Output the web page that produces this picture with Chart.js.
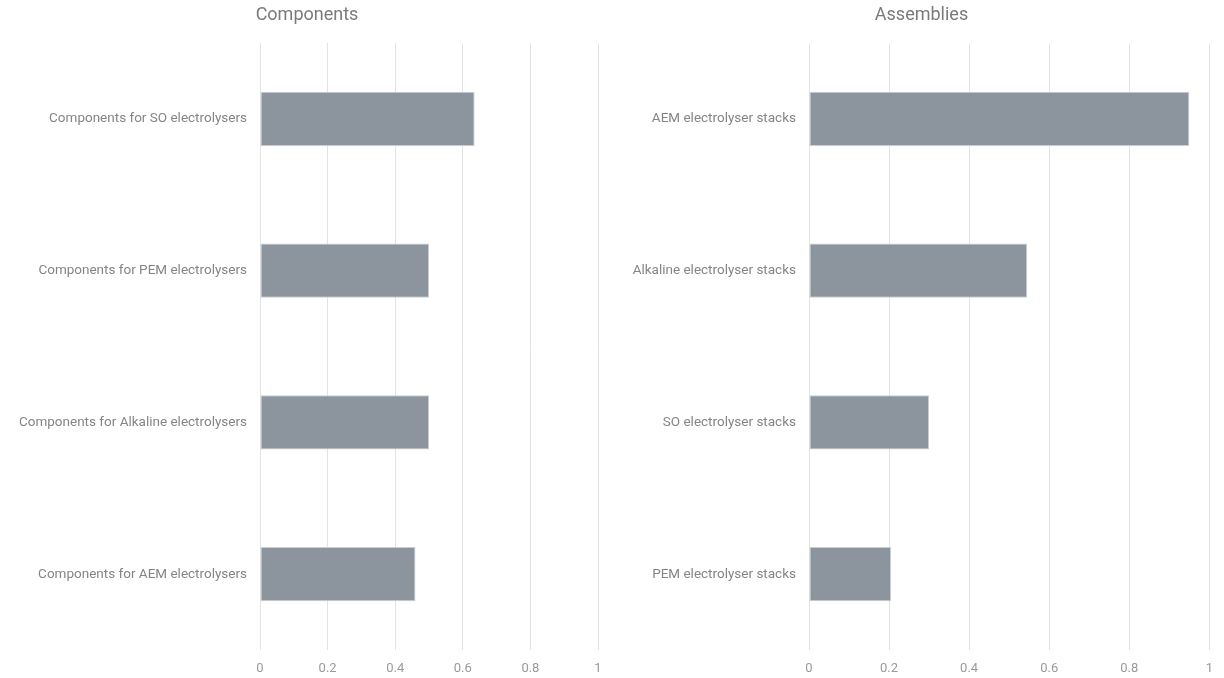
<!DOCTYPE html>
<html>
<head>
<meta charset="utf-8">
<script src="https://cdn.jsdelivr.net/npm/chart.js@4/dist/chart.umd.min.js"></script>
<style>
	html, body { margin: 0; padding: 0; background: #fff; overflow: hidden; }
	.panel { position: absolute; top: 0; height: 678px; }
	#leftPanel { left: 16px; width: 600px; }
	#rightPanel { left: 630px; width: 594px; }
</style>
</head>
<body>
<div class="panel" id="leftPanel"><canvas id="componentsChart"></canvas></div>
<div class="panel" id="rightPanel"><canvas id="assembliesChart"></canvas></div>
<script>
const componentLabels = [
	'Components for SO electrolysers',
	'Components for PEM electrolysers',
	'Components for Alkaline electrolysers',
	'Components for AEM electrolysers'
];
const componentValues = [0.635, 0.5, 0.5, 0.46];

const assemblyLabels = [
	'AEM electrolyser stacks',
	'Alkaline electrolyser stacks',
	'SO electrolyser stacks',
	'PEM electrolyser stacks'
];
const assemblyValues = [0.95, 0.545, 0.3, 0.205];

const xTicks = [0, 0.2, 0.4, 0.6, 0.8, 1];

const FONT = 'Roboto, "Open Sans", sans-serif';

function makeConfig(title, labels, values, axisWidth, rightPad) {
	return {
		type: 'bar',
		data: {
			labels: labels,
			datasets: [{
				data: values,
				backgroundColor: '#8c949e',
				borderColor: '#c9cdd3',
				borderWidth: 1,
				borderSkipped: false,
				categoryPercentage: 1,
				barPercentage: 0.356
			}]
		},
		options: {
			indexAxis: 'y',
			responsive: false,
			animation: false,
			layout: {
				padding: { left: 0, right: rightPad, top: 0, bottom: 0 }
			},
			plugins: {
				legend: { display: false },
				tooltip: { enabled: false },
				title: {
					display: true,
					text: title,
					color: '#7a7a7a',
					font: { family: FONT, size: 18, weight: 'normal' },
					padding: { top: 5, bottom: 16.4 }
				}
			},
			scales: {
				x: {
					min: 0,
					max: 1,
					afterBuildTicks: function (scale) {
						scale.ticks = xTicks.map(v => ({ value: v }));
					},
					afterFit: function (scale) {
						scale.height = 28;
					},
					grid: {
						color: '#e3e3e3',
						lineWidth: 1,
						drawTicks: false
					},
					border: { display: false },
					ticks: {
						color: '#9a9a9a',
						padding: 11,
						font: { family: FONT, size: 13 },
						callback: function (value) {
							return String(Math.round(value * 10) / 10);
						}
					}
				},
				y: {
					afterFit: function (scale) {
						scale.width = axisWidth;
					},
					grid: { display: false, drawTicks: false },
					border: { display: false },
					ticks: {
						color: '#858585',
						padding: 13,
						font: { family: FONT, size: 13.5 }
					}
				}
			}
		}
	};
}

function buildChart(id, width, config) {
	const canvas = document.getElementById(id);
	canvas.width = width;
	canvas.height = 678;
	return new Chart(canvas, config);
}

// plot areas land at 260..598 (left) and 809..1213 (right) on the page
buildChart('componentsChart', 600, makeConfig('Components', componentLabels, componentValues, 244, 18));
buildChart('assembliesChart', 594, makeConfig('Assemblies', assemblyLabels, assemblyValues, 179, 11));
</script>
</body>
</html>
